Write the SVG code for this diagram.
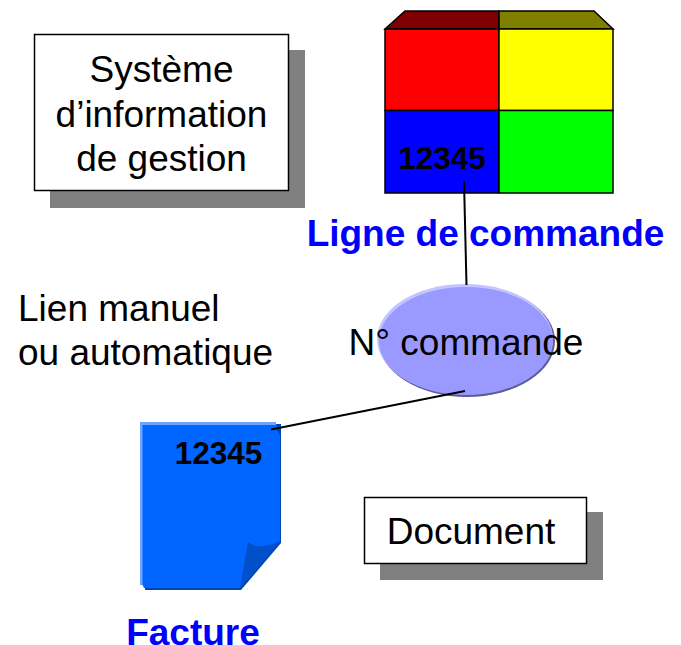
<svg xmlns="http://www.w3.org/2000/svg" width="681" height="645" viewBox="0 0 681 645">
<style>
text{font-family:"Liberation Sans",Arial,sans-serif;fill:#000}
.t{font-size:37px}
.b{font-size:31.500px;font-weight:bold}
.h{font-size:37px;font-weight:bold;fill:#0000ff}
.c{stroke:#000;stroke-width:2}
.box{fill:#fff;stroke:#000;stroke-width:1.5}
.sh{fill:#808080}
.cell{stroke:#000;stroke-width:1.5}
</style>
<rect width="681" height="645" fill="#fff"/>
<g id="systeme">
<rect class="sh" x="50" y="50" width="255" height="158"/>
<rect class="box" x="34.500" y="34.500" width="254" height="156"/>
<text class="t" x="161.500" y="82" text-anchor="middle">Système</text>
<text class="t" x="161.500" y="127" text-anchor="middle">d’information</text>
<text class="t" x="161.500" y="171" text-anchor="middle">de gestion</text>
</g>
<g id="ligne-commande">
<polygon class="cell" points="385,29 405,11 499,11 499,29" fill="#7f0000"/>
<polygon class="cell" points="499,29 499,11 594,11 613,29" fill="#7f7f00"/>
<rect class="cell" x="385" y="29" width="114" height="81.500" fill="#ff0000"/>
<rect class="cell" x="499" y="29" width="114" height="81.500" fill="#ffff00"/>
<rect class="cell" x="385" y="110.500" width="114" height="82.500" fill="#0000ff"/>
<rect class="cell" x="499" y="110.500" width="114" height="82.500" fill="#00ff00"/>
<text class="b" x="442" y="168.500" text-anchor="middle">12345</text>
<text class="h" x="485.500" y="246" text-anchor="middle">Ligne de commande</text>
</g>
<g id="lien">
<text class="t" x="18" y="321">Lien manuel</text>
<text class="t" x="18" y="365">ou automatique</text>
</g>
<g id="commande">
<ellipse cx="467" cy="341" rx="88" ry="56" fill="#5c5c99"/>
<ellipse cx="465" cy="339" rx="88" ry="55" fill="#c4c4ff"/>
<ellipse cx="466" cy="341" rx="87" ry="54" fill="#9999ff"/>
<text class="t" x="466" y="355" text-anchor="middle">N° commande</text>
</g>
<g id="facture">
<path d="M145 424H281V543L241 590H145Z" fill="#0047b3"/>
<path d="M140 422H276V425H140ZM140 422H143V585H140Z" fill="#6fa3ff"/>
<path d="M142.500 425H277V430L280 436V541L240 588H144L142.500 585Z" fill="#0066ff"/>
<path d="M248 542Q258 551 280 541L240 588Z" fill="#0050cc"/>
<text class="b" x="218.500" y="463.500" text-anchor="middle">12345</text>
<text class="h" x="193" y="645" text-anchor="middle">Facture</text>
</g>
<g id="document">
<rect class="sh" x="380" y="512" width="223" height="68"/>
<rect class="box" x="364.500" y="497.500" width="222" height="66"/>
<text class="t" x="471" y="544" text-anchor="middle">Document</text>
</g>
<g id="connectors">
<line class="c" x1="464" y1="181" x2="466.500" y2="285"/>
<line class="c" x1="465" y1="391" x2="271" y2="429.500"/>
</g>
</svg>
